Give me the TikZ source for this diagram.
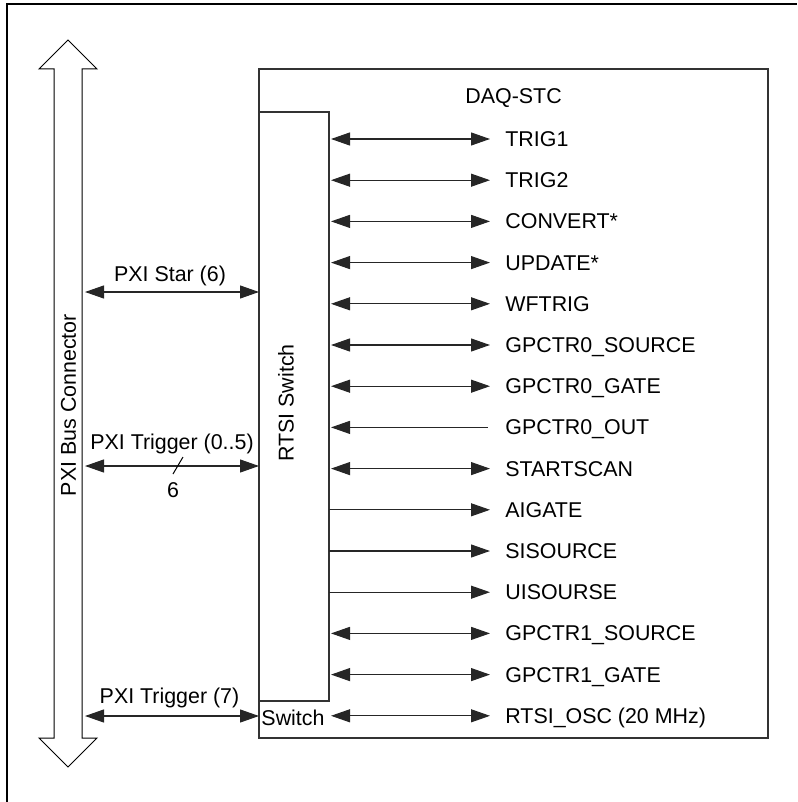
\documentclass[tikz,border=0pt]{standalone}
\usepackage{fontspec}
\setmainfont{Liberation Sans}
\usetikzlibrary{arrows.meta}
\begin{document}
\begin{tikzpicture}[x=0.5pt,y=-0.5pt,
  txt/.style={font=\fontsize{10.7pt}{12pt}\selectfont, inner sep=0pt},
  lbl/.style={txt, anchor=west, inner xsep=7.5pt, inner ysep=0pt, text height=7.5pt, text depth=0pt},
  box/.style={draw=black!80, line width=0.65pt, inner sep=0pt, outer sep=0pt},
  conn/.style={line width=0.55pt, draw=black!85},
  both/.style={conn, {Triangle[length=9.5pt,width=6.5pt]}-{Triangle[length=9.5pt,width=6.5pt]}},
  toR/.style={conn, -{Triangle[length=9.5pt,width=6.5pt]}},
  toL/.style={conn, {Triangle[length=9.5pt,width=6.5pt]}-},
]
\useasboundingbox (0,0) rectangle (797,802);
% outer frame (top and left only)
\draw[line width=1.3pt] (7,802) -- (7,4) -- (797,4);
% PXI bus double arrow
\draw[line width=0.5pt] (68,40) -- (97,69) -- (82,69) -- (82,738) -- (97,738) -- (68,767)
  -- (39,738) -- (54,738) -- (54,69) -- (39,69) -- cycle;
\node[txt, rotate=90] (bus) at (68.5,405) {PXI Bus Connector};
% boxes
\node[box, minimum width=254.5pt, minimum height=334.5pt] (daq) at (513.5,403.5) {};
\node[box, minimum width=35pt, minimum height=294.5pt] (rtsi) at (294,406.5) {};
\node[txt, anchor=base west] (daqt) at (465,104) {DAQ-STC};
\node[txt, rotate=90] (rtsit) at (286,403) {RTSI Switch};
\node[txt, anchor=base] (sw) at (293,725) {Switch};
% right-side labels
\foreach \i/\t in {1/TRIG1,2/TRIG2,3/CONVERT*,4/UPDATE*,5/WFTRIG,6/GPCTR0\_SOURCE,
  7/GPCTR0\_GATE,8/GPCTR0\_OUT,9/STARTSCAN,10/AIGATE,11/SISOURCE,12/UISOURSE,
  13/GPCTR1\_SOURCE,14/GPCTR1\_GATE,15/RTSI\_OSC (20 MHz)}{
  \node[lbl] (l\i) at (490,{139+41.2*(\i-1)}) {\t};
}
\foreach \i in {1,2,3,4,5,6,7,9,13,14}{
  \draw[both, shorten <=1pt] (rtsi.east |- l\i.west) -- (l\i.west);
}
\draw[toL, shorten <=1pt, shorten >=1pt] (rtsi.east |- l8.west) -- (l8.west);
\foreach \i in {10,11,12}{
  \draw[toR] (rtsi.east |- l\i.west) -- (l\i.west);
}
\draw[both, shorten <=1pt] (rtsi.east |- l15.west) -- (l15.west);
% left-side connectors
\coordinate (s1) at (85,292);
\coordinate (s2) at (85,466);
\coordinate (s3) at (85,716);
\draw[both] (s1) -- (s1 -| daq.west);
\draw[both] (s2) -- (s2 -| daq.west);
\draw[both] (s3) -- (s3 -| daq.west);
\node[txt, anchor=base] (ls1) at (170,281) {PXI Star (6)};
\node[txt, anchor=base] (ls2) at (172,449) {PXI Trigger (0..5)};
\node[txt, anchor=base] (ls3) at (169.5,703) {PXI Trigger (7)};
\draw[line width=0.5pt] (183,457) -- (173,474);
\node[txt, anchor=base] (six) at (173,497) {6};
\end{tikzpicture}
\end{document}
